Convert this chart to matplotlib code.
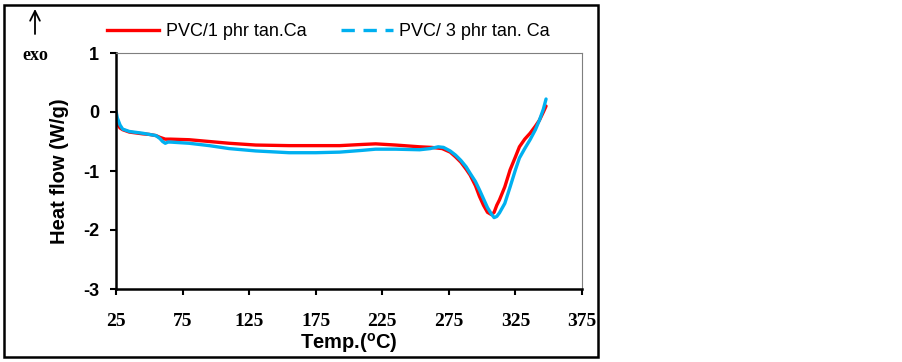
import matplotlib
matplotlib.use('Agg')
import matplotlib.pyplot as plt
from matplotlib.lines import Line2D
from matplotlib.patches import Rectangle

# DSC curves
temp_1phr = [25, 26, 28, 30, 35, 45, 50, 55, 58, 62, 66, 80, 95, 110, 130, 155, 193, 210, 220,
             235, 253, 262, 270, 276, 280, 284, 288, 291, 295, 298, 301, 304, 307, 309, 311,
             313, 317, 321, 325, 328, 332, 336, 340, 343, 346, 348]
flow_1phr = [-0.14, -0.20, -0.27, -0.30, -0.34, -0.37, -0.38, -0.40, -0.43, -0.46, -0.46, -0.47,
             -0.50, -0.53, -0.56, -0.57, -0.57, -0.55, -0.54, -0.56, -0.59, -0.60, -0.62, -0.68,
             -0.76, -0.85, -0.97, -1.07, -1.25, -1.43, -1.58, -1.70, -1.74, -1.70, -1.58, -1.49,
             -1.27, -0.98, -0.76, -0.59, -0.46, -0.36, -0.24, -0.14, 0.0, 0.10]

temp_3phr = [25, 26, 28, 30, 35, 45, 50, 55, 58, 60, 62, 64, 66, 80, 95, 110, 130, 155, 175, 193,
             210, 220, 235, 253, 261, 267, 271, 276, 280, 284, 288, 291, 295, 298, 301, 304, 307,
             309, 311, 313, 317, 321, 325, 328, 332, 336, 340, 343, 346, 348]
flow_3phr = [0.02, -0.10, -0.22, -0.29, -0.33, -0.36, -0.38, -0.40, -0.45, -0.50, -0.53, -0.51,
             -0.51, -0.53, -0.57, -0.62, -0.66, -0.69, -0.69, -0.68, -0.65, -0.63, -0.63, -0.64,
             -0.62, -0.59, -0.60, -0.66, -0.73, -0.82, -0.93, -1.04, -1.18, -1.32, -1.47, -1.62,
             -1.73, -1.79, -1.77, -1.71, -1.55, -1.27, -0.98, -0.78, -0.62, -0.47, -0.30, -0.14,
             0.05, 0.22]

x_ticks = [25, 75, 125, 175, 225, 275, 325, 375]
y_ticks = [1, 0, -1, -2, -3]

red = '#FF0000'
blue = '#00B0F0'
sans = 'Liberation Sans'
serif = 'Liberation Serif'

fig = plt.figure(figsize=(9.02, 3.62), dpi=100)
ax = fig.add_axes([116 / 902, 1 - 289 / 362, (582 - 116) / 902, (289 - 53) / 362])

ax.plot(temp_1phr, flow_1phr, color=red, lw=2.4, solid_capstyle='round')
ax.plot(temp_3phr, flow_3phr, color=blue, lw=2.4, solid_capstyle='round')

ax.set_xlim(25, 375)
ax.set_ylim(-3, 1)
ax.set_xticks(x_ticks)
ax.set_yticks(y_ticks)
ax.set_xticklabels([str(t) for t in x_ticks], family=serif, fontsize=14, weight='bold')
ax.set_yticklabels([str(t) for t in y_ticks], family=sans, fontsize=13, weight='bold')
ax.tick_params(axis='x', direction='out', length=4, width=1.5, pad=13)
ax.tick_params(axis='y', direction='out', length=4, width=1.5, pad=8)

for s in ['left', 'bottom']:
    ax.spines[s].set_linewidth(1.8)
    ax.spines[s].set_color('black')
for s in ['top', 'right']:
    ax.spines[s].set_linewidth(0.8)
    ax.spines[s].set_color('#7f7f7f')

ax.set_xlabel(r'Temp.($^\mathregular{o}$C)', family=sans, fontsize=14.5, weight='bold', labelpad=1)
ax.set_ylabel('Heat flow (W/g)', family=sans, fontsize=14.5, weight='bold', labelpad=10)

# legend
handles = [Line2D([], [], color=red, lw=2.4),
           Line2D([], [], color=blue, lw=2.4, dashes=(4, 2.6))]
fig.legend(handles, ['PVC/1 phr tan.Ca', 'PVC/ 3 phr tan. Ca'], ncol=2, frameon=False,
           loc='center left', bbox_to_anchor=(107 / 902, 1 - 32 / 362),
           borderpad=0, borderaxespad=0, handlelength=2.9, handletextpad=0.35,
           columnspacing=1.9, prop={'family': sans, 'size': 13})

# exo arrow
ax.annotate('', xy=(35 / 902, 1 - 9 / 362), xytext=(35 / 902, 1 - 34 / 362),
            xycoords='figure fraction', textcoords='figure fraction',
            arrowprops=dict(arrowstyle='->,head_width=0.35,head_length=0.7', color='black',
                            lw=1.3, shrinkA=0, shrinkB=0))
fig.text(35 / 902, 1 - 55 / 362, 'exo', family=serif, fontsize=13, weight='bold',
         ha='center', va='center')

# outer frame
fig.patches.append(Rectangle((4 / 902, 5 / 362), 594 / 902, 352 / 362, transform=fig.transFigure,
                             fill=False, edgecolor='black', lw=1.8))

fig.savefig('out.png', dpi=100)
